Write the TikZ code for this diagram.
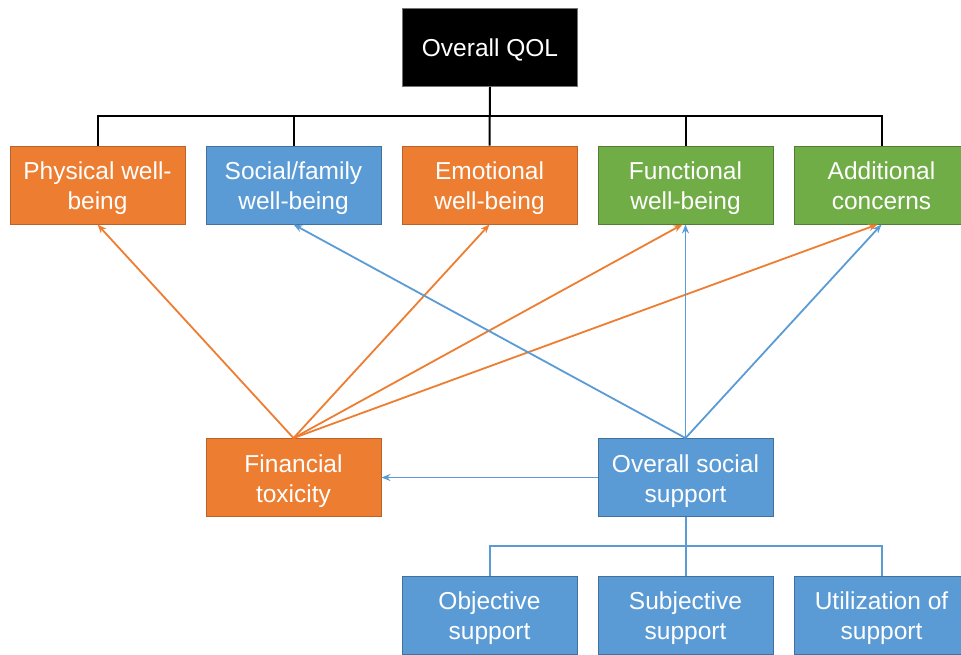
\documentclass[tikz,border=0pt]{standalone}
\usepackage{fontspec}
\setmainfont{Liberation Sans}
\usetikzlibrary{arrows.meta}
\definecolor{orng}{HTML}{ED7D31}
\definecolor{orngd}{HTML}{B9622A}
\definecolor{blu}{HTML}{5B9BD5}
\definecolor{blud}{HTML}{41719C}
\definecolor{grn}{HTML}{70AD47}
\definecolor{grnd}{HTML}{507E32}
\begin{document}
\begin{tikzpicture}[x=1pt,y=-1pt,
  box/.style={draw, line width=0.9pt, minimum width=175pt, minimum height=78pt, inner sep=0pt,
    align=center, text=white, font=\fontsize{24.5}{30}\selectfont, text height=52pt, text depth=3pt},
  obox/.style={box, fill=orng, draw=orngd},
  bbox/.style={box, fill=blu, draw=blud},
  gbox/.style={box, fill=grn, draw=grnd},
  kbox/.style={box, fill=black, draw=black!55, text height=20pt, text depth=2pt},
  tree/.style={line width=2pt, black},
  btree/.style={line width=2pt, blu},
  oarr/.style={line width=1.8pt, orng, -{Stealth[length=9pt,width=7pt]}},
  barr/.style={line width=1.8pt, blu, -{Stealth[length=9pt,width=7pt]}}]
\useasboundingbox (0,0) rectangle (961,654);
\node[kbox] (qol) at (490,47.5) {Overall QOL};
\node[obox] (pw) at (97.5,185) {Physical well-\\being};
\node[bbox] (sf) at (293.5,185) {Social/family\\well-being};
\node[obox] (em) at (489.5,185) {Emotional\\well-being};
\node[gbox] (fw) at (685.5,185) {Functional\\well-being};
\node[gbox] (ac) at (881.5,185) {Additional\\concerns};
\node[obox] (ft) at (293.5,477.5) {Financial\\toxicity};
\node[bbox] (oss) at (685.5,477.5) {Overall social\\support};
\node[bbox] (obj) at (489.5,615) {Objective\\support};
\node[bbox] (sub) at (685.5,615) {Subjective\\support};
\node[bbox] (uti) at (881.5,615) {Utilization of\\support};
% top tree
\draw[tree] (pw.north) |- (ac.north |- 0,116) -- (ac.north);
\draw[tree] (sf.north) -- (sf.north |- 0,116);
\draw[tree] (fw.north) -- (fw.north |- 0,116);
\draw[tree] (qol.south) -- (em.north);
% bottom tree
\draw[btree] (obj.north) |- (uti.north |- 0,546) -- (uti.north);
\draw[btree] (oss.south) -- (sub.north);
% arrows from financial toxicity
\draw[oarr] (ft.north) -- (pw.south);
\draw[oarr] (ft.north) -- (em.south);
\draw[oarr] (ft.north) -- ([xshift=-3pt]fw.south);
\draw[oarr] (ft.north) -- ([xshift=-4pt]ac.south);
% arrows from social support
\draw[barr] (oss.north) -- (sf.south);
\draw[barr] (oss.north) -- (fw.south);
\draw[barr] (oss.north) -- (ac.south);
\draw[barr] (oss.west) -- (ft.east);
\end{tikzpicture}
\end{document}
